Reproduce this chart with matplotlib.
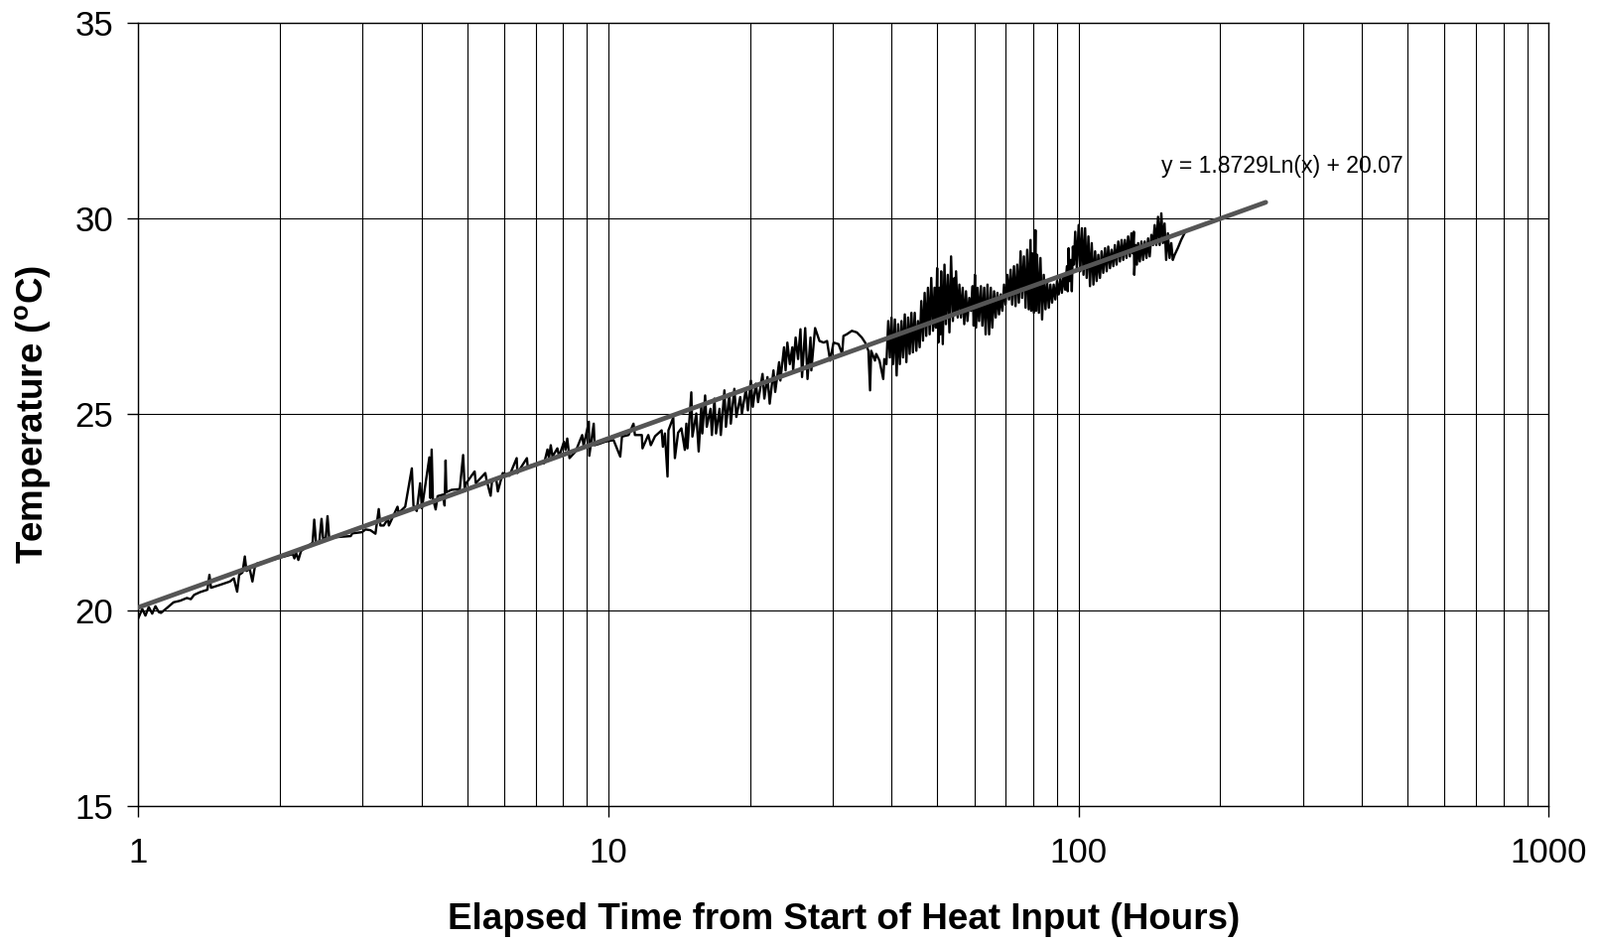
import numpy as np
import matplotlib
matplotlib.use("Agg")
import matplotlib.pyplot as plt
from matplotlib.ticker import FixedLocator, NullFormatter, FuncFormatter

plt.rcParams['font.family'] = ['Liberation Sans', 'DejaVu Sans']
plt.rcParams['mathtext.fontset'] = 'custom'
plt.rcParams['mathtext.rm'] = 'Liberation Sans'
plt.rcParams['mathtext.bf'] = 'Liberation Sans:bold'

early_hours = [1.000, 1.019, 1.035, 1.052, 1.070, 1.087, 1.105, 1.117, 1.141, 1.188,
               1.227, 1.268, 1.293, 1.314, 1.353, 1.402, 1.416, 1.427, 1.496, 1.565,
               1.596, 1.622, 1.638, 1.665, 1.684, 1.698, 1.725, 1.748, 1.768, 1.788,
               1.95, 2.13, 2.147, 2.164, 2.189, 2.218, 2.347, 2.366, 2.386, 2.424,
               2.452, 2.472, 2.504, 2.525, 2.545, 2.829, 2.851, 2.992, 3.041, 3.116,
               3.193, 3.245, 3.271, 3.325, 3.396, 3.41, 3.558, 3.577, 3.694, 3.816,
               3.847, 3.909, 3.974, 4.01, 4.158, 4.18, 4.205, 4.23, 4.288, 4.33,
               4.45, 4.48, 4.502, 4.52, 4.634, 4.826, 4.906, 4.944, 4.98, 5.19,
               5.22, 5.469, 5.50, 5.613, 5.65]
early_temp = [19.80, 20.03, 19.86, 20.08, 19.91, 20.10, 19.95, 19.93, 20.02, 20.20,
              20.24, 20.31, 20.28, 20.39, 20.46, 20.52, 20.90, 20.57, 20.65, 20.73,
              20.81, 20.47, 20.90, 20.96, 21.37, 21.00, 21.05, 20.73, 21.09, 21.19,
              21.30, 21.43, 21.32, 21.47, 21.28, 21.51, 21.72, 22.31, 21.74, 21.71,
              22.33, 21.81, 21.85, 22.40, 21.85, 21.89, 21.96, 21.99, 22.06, 22.04,
              21.95, 22.58, 22.16, 22.16, 22.33, 22.16, 22.64, 22.48, 22.64, 23.62,
              22.67, 22.53, 23.24, 22.60, 23.90, 22.86, 24.10, 22.86, 22.57, 22.91,
              22.95, 22.67, 23.82, 23.01, 23.07, 23.09, 23.96, 23.09, 23.24, 23.54,
              23.24, 23.50, 23.33, 22.92, 23.29]

mid_hours = [5.77, 5.815, 5.957, 6.153, 6.377, 6.40, 6.705, 6.73, 7.005, 7.295,
             7.415, 7.47, 7.536, 7.60, 7.784, 7.85, 8.04, 8.10, 8.17, 8.26,
             8.51, 8.79, 8.85, 9.08, 9.10, 9.30, 9.34, 9.53, 9.84, 10.25,
             10.59, 10.68, 11.03, 11.30, 11.38, 11.77, 11.81, 12.15, 12.30, 12.56,
             12.97, 13.05, 13.18, 13.35, 13.41, 13.73, 13.84, 14.06, 14.29, 14.53,
             14.64, 14.72, 15.00, 15.08, 15.37, 15.55, 15.75, 15.83, 16.05, 16.18,
             16.48, 16.59, 16.80, 16.93, 17.22, 17.33, 17.64, 17.77, 18.07, 18.20,
             18.52, 18.70, 19.06, 19.22, 19.60, 19.79, 20.08, 20.27, 20.58, 20.80,
             21.26, 21.45, 21.78, 22.02, 22.43, 22.62, 23.06, 23.20, 23.62, 23.80,
             24.01, 24.30, 24.6, 24.7, 25.0, 25.3, 25.6, 25.8, 26.2, 26.5,
             26.89, 27.0, 27.5, 28.1, 28.69, 29.16, 29.6, 30.1, 30.85, 31.4,
             31.6, 32.1, 32.93, 33.74, 34.57, 35.14, 35.71, 36.0, 36.2, 36.87,
             37.1, 37.7, 38.4, 38.6, 39.0]
mid_temp = [23.34, 23.03, 23.50, 23.43, 23.88, 23.50, 23.88, 23.67, 23.73, 23.75,
            24.10, 23.88, 24.21, 23.92, 24.13, 23.92, 24.30, 24.09, 24.38, 23.88,
            24.05, 24.47, 24.19, 24.81, 23.94, 24.76, 24.21, 24.24, 24.30, 24.34,
            23.92, 24.43, 24.47, 24.76, 24.47, 24.47, 24.13, 24.47, 24.21, 24.44,
            24.59, 24.17, 24.51, 23.41, 24.59, 24.92, 23.88, 24.53, 24.64, 24.09,
            24.76, 24.13, 25.56, 24.43, 25.02, 24.05, 25.19, 24.51, 25.48, 24.68,
            25.14, 24.47, 25.40, 24.51, 25.14, 24.47, 25.61, 24.68, 25.52, 24.76,
            25.65, 24.93, 25.44, 25.02, 25.65, 25.10, 25.86, 25.19, 25.78, 25.31,
            26.03, 25.40, 25.95, 25.27, 26.12, 25.57, 26.33, 25.86, 26.71, 26.12,
            26.83, 26.28, 26.71, 26.12, 26.96, 26.41, 27.17, 25.95, 27.20, 25.90,
            26.96, 26.12, 27.20, 26.87, 26.83, 26.87, 26.37, 26.83, 26.79, 26.54,
            27.00, 27.04, 27.13, 27.09, 26.96, 26.83, 26.62, 25.61, 26.62, 26.37,
            26.54, 26.37, 25.90, 26.41, 26.28]

late_hours = [39.35, 39.67, 39.99, 40.3, 40.65, 41.0, 41.31, 41.65, 41.99, 42.3,
              42.67, 43.0, 43.37, 43.7, 44.08, 44.4, 44.80, 45.15, 45.53, 45.9,
              46.27, 46.65, 47.03, 47.4, 47.80, 48.2, 48.58, 49.0, 49.37, 49.7,
              50.0, 50.3, 50.56, 50.8, 50.99, 51.4, 51.83, 52.2, 52.67, 53.1,
              53.53, 54.0, 54.41, 54.6, 54.85, 55.3, 55.75, 56.2, 56.66, 57.1,
              57.58, 58.0, 58.52, 59.0, 59.48, 59.8, 60.16, 60.5, 60.95, 61.4,
              61.95, 62.4, 62.96, 63.4, 63.98, 64.5, 65.03, 65.5, 66.09, 66.6,
              67.17, 67.7, 68.27, 68.8, 69.39, 69.9, 70.52, 71.1, 71.67, 72.2,
              72.84, 73.4, 74.03, 74.6, 75.24, 75.8, 76.47, 77.1, 77.72, 78.3,
              78.99, 79.3, 79.63, 80.3, 80.93, 81.2, 81.59, 82.3, 82.93, 83.6,
              84.28, 85.0, 85.66, 86.4, 87.06, 87.8, 88.48, 89.2, 89.93, 90.7,
              91.40, 92.1, 92.89, 93.6, 94.41, 94.8, 95.18, 95.7, 96.27, 96.7,
              97.20, 97.7, 98.33, 99.1, 100.0, 100.8, 101.6, 102.4, 103.2, 104.0,
              104.9, 105.7, 106.6, 107.5, 108.4, 109.2, 110.1, 111.0, 111.9, 112.8,
              113.8, 114.7, 115.6, 116.6, 117.5, 118.5, 119.4, 120.4, 121.4, 122.4,
              123.4, 124.4, 125.4, 126.4, 127.4, 128.5, 129.5, 130.3, 131.0, 131.3,
              132.2, 133.0, 133.8, 134.9, 136.0, 137.1, 138.2, 139.4, 140.5, 141.6,
              142.8, 144.0, 145.1, 146.3, 147.5, 148.7, 149.9, 151.1, 152.3, 153.5,
              154.8, 156.1, 157.4, 158.6, 160.0, 162.5, 165.2, 167.9]
late_temp = [27.38, 26.45, 27.47, 26.28, 27.42, 25.99, 27.30, 26.28, 27.38, 26.45,
             27.55, 26.33, 27.47, 26.54, 27.59, 26.58, 27.59, 26.62, 27.38, 26.71,
             27.89, 26.88, 28.10, 27.00, 28.23, 27.04, 28.48, 27.13, 28.23, 27.21,
             28.73, 26.83, 28.23, 27.04, 28.65, 26.79, 28.82, 27.30, 28.56, 27.09,
             29.03, 27.38, 28.48, 27.64, 28.65, 27.47, 28.31, 27.47, 28.23, 27.30,
             28.14, 27.38, 27.97, 27.64, 28.27, 27.26, 28.56, 27.21, 28.23, 27.38,
             28.27, 27.26, 28.23, 27.04, 28.31, 27.04, 28.23, 27.21, 28.14, 27.47,
             28.10, 27.55, 28.06, 27.64, 28.31, 27.80, 28.56, 27.93, 28.69, 27.80,
             28.78, 27.76, 28.82, 27.85, 29.16, 27.97, 29.03, 27.72, 29.20, 27.68,
             29.45, 27.64, 29.11, 27.59, 29.70, 27.64, 29.07, 27.59, 28.99, 27.42,
             28.56, 27.68, 28.40, 27.72, 28.31, 27.85, 28.31, 27.93, 28.40, 28.06,
             28.48, 28.10, 28.56, 28.18, 28.78, 28.14, 29.24, 28.40, 28.94, 28.14,
             29.28, 28.82, 29.66, 28.73, 29.83, 28.65, 29.75, 28.56, 29.75, 28.48,
             29.54, 28.27, 29.37, 28.31, 29.16, 28.40, 29.07, 28.48, 29.16, 28.61,
             29.24, 28.65, 29.28, 28.73, 29.20, 28.78, 29.32, 28.82, 29.41, 28.90,
             29.45, 28.94, 29.45, 28.99, 29.54, 29.03, 29.62, 29.11, 29.66, 28.56,
             29.32, 28.82, 29.37, 28.90, 29.41, 28.94, 29.41, 28.99, 29.49, 29.03,
             29.58, 29.32, 29.83, 29.32, 30.04, 29.32, 30.13, 29.37, 29.87, 28.94,
             29.62, 28.99, 29.37, 28.94, 29.07, 29.24, 29.45, 29.62]

# logarithmic trendline as printed on the chart
trend_slope = 1.8729
trend_intercept = 20.07
trend_end = 250
trend_label = "y = 1.8729Ln(x) + 20.07"

hours = np.array(early_hours + mid_hours + late_hours)
temps = np.array(early_temp + mid_temp + late_temp)

fig = plt.figure(figsize=(16.12, 9.5), dpi=100)
ax = fig.add_axes([0.0865, 0.1453, 0.8815, 0.8308])

ax.plot(hours, temps, color='black', lw=1.7, zorder=3)
tx = np.geomspace(1, trend_end, 100)
ax.plot(tx, trend_intercept + trend_slope * np.log(tx), color='#555555', lw=3.4,
        solid_capstyle='round', zorder=4)
ax.text(150, 31.32, trend_label, fontsize=16.6, va='center', ha='left', zorder=5)

ax.set_xscale('log')
ax.set_xlim(1, 1000)
ax.set_ylim(15, 35)
ax.set_yticks([15, 20, 25, 30, 35])
ax.xaxis.set_major_locator(FixedLocator([1, 10, 100, 1000]))
ax.xaxis.set_major_formatter(FuncFormatter(lambda v, p: '%g' % v))
ax.xaxis.set_minor_formatter(NullFormatter())

ax.grid(True, which='both', axis='x', color='black', lw=0.8)
ax.grid(True, which='major', axis='y', color='black', lw=0.8)
ax.set_axisbelow(True)
for s in ax.spines.values():
    s.set_color('black')
    s.set_linewidth(1.0)

ax.tick_params(axis='both', which='major', direction='out', length=8, width=1,
               labelsize=25, color='black')
ax.tick_params(axis='x', which='major', pad=14)
ax.tick_params(axis='y', which='major', pad=10)
ax.tick_params(axis='x', which='minor', length=0)

ax.set_xlabel('Elapsed Time from Start of Heat Input (Hours)', fontsize=26.5,
              fontweight='bold', va='center')
ax.xaxis.set_label_coords(0.5, -0.1457)
ax.set_ylabel(r'Temperature ($^{\mathbf{o}}$C)', fontsize=26.5, fontweight='bold',
              va='center', ha='center')
ax.yaxis.set_label_coords(-0.0742, 0.5)

fig.savefig('out.png', dpi=100, facecolor='white')
